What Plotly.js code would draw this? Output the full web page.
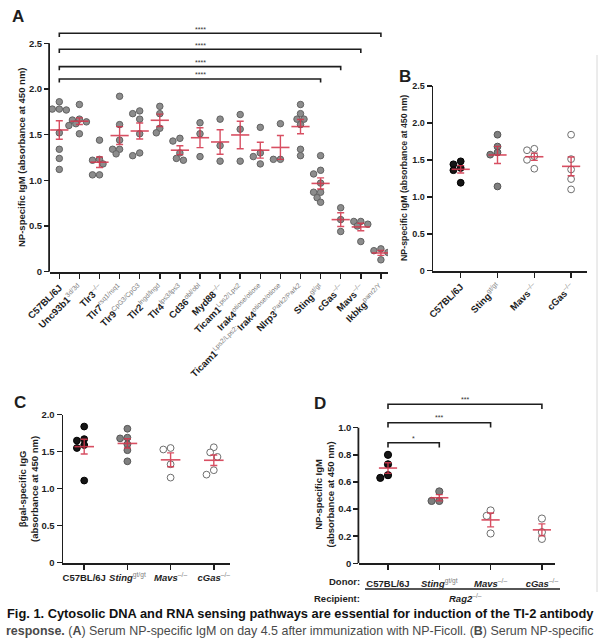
<!DOCTYPE html>
<html><head><meta charset="utf-8">
<script src="https://cdn.plot.ly/plotly-3.0.1.min.js"></script>
<style>html,body{margin:0;padding:0;background:#fff}#chart{width:600px;height:642px}</style>
</head><body><div id="chart"></div>
<script>
// ---------------- DATA ----------------
// Panel A : NP-specific IgM (absorbance at 450 nm)
const A_C57BL6J    = [1.86, 1.78, 1.78, 1.77, 1.52, 1.34, 1.24, 1.12];
const A_Unc93b1    = [1.83, 1.67, 1.66, 1.64, 1.62, 1.60, 1.51];
const A_Tlr3       = [1.44, 1.23, 1.22, 1.18, 1.06, 1.06];
const A_Tlr7       = [1.92, 1.61, 1.44, 1.34, 1.34, 1.29];
const A_Tlr9       = [1.76, 1.73, 1.67, 1.51, 1.27, 1.30];
const A_Tlr2       = [1.81, 1.73, 1.57, 1.52];
const A_Tlr4       = [1.46, 1.43, 1.30, 1.22, 1.24];
const A_Cd36       = [1.63, 1.51, 1.26];
const A_Myd88      = [1.67, 1.38, 1.21];
const A_Ticam1     = [1.72, 1.56, 1.21];
const A_Irak4      = [1.58, 1.30, 1.26, 1.18];
const A_Ticam1Irak4= [1.62, 1.23, 1.23];
const A_Nlrp3      = [1.83, 1.73, 1.67, 1.67, 1.61, 1.27, 1.34];
const A_Sting      = [1.27, 1.07, 1.11, 0.97, 0.87, 0.87, 0.81, 0.76];
const A_cGas       = [0.70, 0.57, 0.44];
const A_Mavs       = [0.55, 0.55, 0.52, 0.50, 0.33];
const A_Ikbkg      = [0.25, 0.23, 0.21, 0.13];

// Panel B : NP-specific IgM
const B_C57BL6J = [1.48, 1.44, 1.39, 1.36, 1.19];
const B_Sting   = [1.84, 1.68, 1.60, 1.57, 1.14];
const B_Mavs    = [1.65, 1.63, 1.55, 1.50, 1.38];
const B_cGas    = [1.84, 1.51, 1.37, 1.24, 1.10];

// Panel C : beta-gal-specific IgG
const C_C57BL6J = [1.84, 1.67, 1.65, 1.59, 1.55, 1.11];
const C_Sting   = [1.81, 1.69, 1.68, 1.60, 1.52, 1.37];
const C_Mavs    = [1.55, 1.53, 1.33, 1.15];
const C_cGas    = [1.56, 1.49, 1.43, 1.25, 1.19];

// Panel D : NP-specific IgM (Rag2-/- recipients)
const D_C57BL6J = [0.80, 0.73, 0.65, 0.63];
const D_Sting   = [0.53, 0.46, 0.46];
const D_Mavs    = [0.39, 0.35, 0.22];
const D_cGas    = [0.33, 0.23, 0.18];

// significance comparisons (from group 0 to group "to")
const sigA_to   = [13, 14, 15, 16];
const sigA_text = ['****', '****', '****', '****'];
const sigD_to   = [1, 2, 3];
const sigD_text = ['*', '***', '***'];

// tick labels
const SUPC = '#7e7e7e';
function L(name, sup, it) {
  let s = it ? '<b><i>' + name + '</i></b>' : '<b>' + name + '</b>';
  if (sup) s += '<sup><span style="color:' + SUPC + '">' + sup + '</span></sup>';
  return s;
}
const labelsA = [
  L('C57BL/6J'), L('Unc93b1', '3d/3d'), L('Tlr3', '–/–'), L('Tlr7', 'rsq1/rsq1'),
  L('Tlr9', 'CpG3/CpG3'), L('Tlr2', 'lngd/lngd'), L('Tlr4', 'lps3/lps3'), L('Cd36', 'obl/obl'),
  L('Myd88', '–/–'), L('Ticam1', 'Lps2/Lps2'), L('Irak4', 'otiose/otiose'),
  L('Ticam1', 'Lps2/Lps2;') + L('Irak4', 'otiose/otiose'),
  L('Nlrp3', 'Park2/Park2'), L('Sting', 'gt/gt'), L('cGas', '–/–'), L('Mavs', '–/–'), L('Ikbkg', 'panr2/Y')
];
const labelsB = [L('C57BL/6J'), L('Sting', 'gt/gt'), L('Mavs', '–/–'), L('cGas', '–/–')];
const labelsCD = [L('C57BL/6J'), L('Sting', 'gt/gt', true), L('Mavs', '–/–', true), L('cGas', '–/–', true)];

const groupsA = [A_C57BL6J, A_Unc93b1, A_Tlr3, A_Tlr7, A_Tlr9, A_Tlr2, A_Tlr4, A_Cd36, A_Myd88,
  A_Ticam1, A_Irak4, A_Ticam1Irak4, A_Nlrp3, A_Sting, A_cGas, A_Mavs, A_Ikbkg];
const groupsB = [B_C57BL6J, B_Sting, B_Mavs, B_cGas];
const groupsC = [C_C57BL6J, C_Sting, C_Mavs, C_cGas];
const groupsD = [D_C57BL6J, D_Sting, D_Mavs, D_cGas];

// ---------------- HELPERS ----------------
const W = 600, H = 642;
const fx = p => p / W;
const fy = p => 1 - p / H;
const RED = '#d3374d';
const INK = '#1e1e1e';
const FONT = 'Liberation Sans, Arial, sans-serif';

function mean(a) { return a.reduce((s, v) => s + v, 0) / a.length; }
function sem(a) { const m = mean(a); return Math.sqrt(a.reduce((s, v) => s + (v - m) * (v - m), 0) / (a.length - 1) / a.length); }

// simple deterministic beeswarm (offsets in category units)
function swarm(vals, pxY, pxX, d) {
  const idx = vals.map((v, i) => i).sort((a, b) => vals[b] - vals[a]);
  const placed = [], off = new Array(vals.length);
  const cands = [0, -0.5, 0.5, -1, 1, -1.5, 1.5];
  const thr = 0.8 * d;
  idx.forEach(i => {
    let best = 0, bestD = -1;
    for (const c of cands) {
      const ox = c * d;
      let m = Infinity;
      placed.forEach(p => { m = Math.min(m, Math.hypot(ox - p.x, (vals[i] - p.v) * pxY)); });
      if (m >= thr) { best = ox; bestD = m; break; }
      if (m > bestD) { bestD = m; best = ox; }
    }
    placed.push({ x: best, v: vals[i] });
    off[i] = best / pxX;
  });
  return off;
}

const traces = [];
function addPanel(groups, xa, ya, pxY, pxX, d, styles, meanSize) {
  groups.forEach((g, i) => {
    const off = swarm(g, pxY, pxX, d + 0.5);
    const st = styles[i];
    traces.push({
      type: 'scatter', mode: 'markers', xaxis: xa, yaxis: ya, hoverinfo: 'skip', showlegend: false,
      x: off.map(o => i + o), y: g,
      marker: { size: d, color: st.fill, line: { color: st.line, width: 1 } }
    });
  });
  traces.push({
    type: 'scatter', mode: 'markers', xaxis: xa, yaxis: ya, hoverinfo: 'skip', showlegend: false,
    x: groups.map((g, i) => i), y: groups.map(mean), opacity: 0.88,
    marker: { symbol: 'line-ew', size: meanSize, color: RED, line: { color: RED, width: 1.6 } },
    error_y: { type: 'data', array: groups.map(sem), color: RED, thickness: 1.4, width: 3.5 }
  });
}
const greyStyle = { fill: '#8d8d8d', line: '#626262' };
const stylesBCD = [{ fill: '#151515', line: '#000' }, { fill: '#7f7f7f', line: '#565656' },
  { fill: '#ffffff', line: '#6e6e6e' }, { fill: '#ffffff', line: '#6e6e6e' }];

// pixel geometry of the panels
const A_x0 = 50, A_x1 = 388, A_c0 = 59.3, A_dc = 20.1, A_yb = 271.7, A_ppu = 91.36, A_top = 22;
const B_x0 = 433.3, B_x1 = 586.7, B_c0 = 460.7, B_dc = 36.8, B_yb = 270.7, B_ppu = 73.9;
const C_x0 = 63.3, C_x1 = 230, C_c0 = 84.2, C_dc = 43.2, C_yb = 562.7, C_ppu = 74;
const D_x0 = 359.3, D_x1 = 555, D_c0 = 388, D_dc = 51.3, D_yb = 563.3, D_ppu = 135.6, D_top = 392;

addPanel(groupsA, 'x', 'y', A_ppu, A_dc, 6.5, groupsA.map(() => greyStyle), 13);
addPanel(groupsB, 'x2', 'y2', B_ppu, B_dc, 6.8, stylesBCD, 13);
addPanel(groupsC, 'x3', 'y3', C_ppu, C_dc, 6.8, stylesBCD, 14);
addPanel(groupsD, 'x4', 'y4', D_ppu, D_dc, 7.2, stylesBCD, 13);

function xax(x0, x1, c0, dc, n, labels, angle, extra) {
  return Object.assign({
    domain: [fx(x0), fx(x1)], range: [(x0 - c0) / dc, (x1 - c0) / dc],
    tickvals: labels.map((l, i) => i), ticktext: labels, tickangle: angle,
    ticks: 'outside', ticklen: 5, tickwidth: 1.5, tickcolor: INK,
    showline: true, linewidth: 1.8, linecolor: INK, showgrid: false, zeroline: false,
    tickfont: { family: FONT, size: 9.5, color: INK }, fixedrange: true
  }, extra || {});
}
function yax(yb, ppu, top, tv, tt, showline, anchor) {
  return {
    domain: [fy(yb), fy(yb - top * ppu)], range: [0, top], anchor: anchor,
    tickvals: tv, ticktext: tt, ticks: 'outside', ticklen: 5, tickwidth: 1.5, tickcolor: INK,
    showline: showline, linewidth: 1.8, linecolor: INK, showgrid: false, zeroline: false,
    tickfont: { family: FONT, size: 9.5, color: INK, weight: 'bold' }, fixedrange: true
  };
}
const tvA = [0, 0.5, 1, 1.5, 2, 2.5], ttA = ['0', '0.5', '1.0', '1.5', '2.0', '2.5'];
const tvC = [0, 0.5, 1, 1.5, 2], ttC = ['0', '0.5', '1.0', '1.5', '2.0'];
const tvD = [0, 0.2, 0.4, 0.6, 0.8, 1.0], ttD = ['0', '0.2', '0.4', '0.6', '0.8', '1.0'];

const layout = {
  width: W, height: H, margin: { l: 0, r: 0, t: 0, b: 0 }, paper_bgcolor: '#fff', plot_bgcolor: 'rgba(0,0,0,0)',
  showlegend: false, font: { family: FONT, color: INK },
  xaxis: xax(A_x0, A_x1, A_c0, A_dc, 17, labelsA, -45, { anchor: 'y', tickfont: { family: FONT, size: 9.6, color: INK } }),
  yaxis: yax(A_yb, A_ppu, (A_yb - A_top) / A_ppu, tvA, ttA, false, 'x'),
  xaxis2: xax(B_x0, B_x1, B_c0, B_dc, 4, labelsB, -45, { anchor: 'y2', tickfont: { family: FONT, size: 9.6, color: INK } }),
  yaxis2: yax(B_yb, B_ppu, 2.5, tvA, ttA, true, 'x2'),
  xaxis3: xax(C_x0, C_x1, C_c0, C_dc, 4, labelsCD, 0, { anchor: 'y3' }),
  yaxis3: yax(C_yb, C_ppu, 2.0, tvC, ttC, true, 'x3'),
  xaxis4: xax(D_x0, D_x1, D_c0, D_dc, 4, labelsCD, 0, { anchor: 'y4', ticklabelstandoff: 5 }),
  yaxis4: yax(D_yb, D_ppu, (D_yb - D_top) / D_ppu, tvD, ttD, false, 'x4'),
  shapes: [], annotations: []
};
layout.yaxis2.tickfont.size = 9;

// manual y-axis lines (A and D extend above the axis for comparison bars)
layout.shapes.push({ type: 'line', xref: 'paper', yref: 'y', x0: fx(A_x0) - 0.0015, x1: fx(A_x0) - 0.0015, y0: 0, y1: 2.5, line: { color: INK, width: 1.8 } });
layout.shapes.push({ type: 'line', xref: 'paper', yref: 'y4', x0: fx(D_x0) - 0.0015, x1: fx(D_x0) - 0.0015, y0: 0, y1: 1.0, line: { color: INK, width: 1.8 } });

// comparison bars
const sigAy = [2.11, 2.245, 2.435, 2.61];
sigA_to.forEach((t, k) => {
  const y = sigAy[k], dr = 0.04;
  layout.shapes.push({ type: 'path', xref: 'x', yref: 'y', path: `M0,${y - dr} L0,${y} L${t},${y} L${t},${y - dr}`, line: { color: INK, width: 1.6 } });
  layout.annotations.push({ xref: 'x', yref: 'y', x: 7, y: y + 0.045, text: sigA_text[k], showarrow: false, font: { family: FONT, size: 7, color: '#333' }, yanchor: 'middle' });
});
const sigDy = [0.889, 1.037, 1.173];
sigD_to.forEach((t, k) => {
  const y = sigDy[k], dr = 0.035;
  layout.shapes.push({ type: 'path', xref: 'x4', yref: 'y4', path: `M0,${y - dr} L0,${y} L${t},${y} L${t},${y - dr}`, line: { color: INK, width: 1.6 } });
  layout.annotations.push({ xref: 'x4', yref: 'y4', x: t / 2, y: y + 0.035, text: sigD_text[k], showarrow: false, font: { family: FONT, size: 7, color: '#333' }, yanchor: 'middle' });
});

// right border of the figure
layout.shapes.push({ type: 'line', xref: 'paper', yref: 'paper', x0: fx(597), x1: fx(597), y0: fy(592), y1: fy(55), line: { color: '#d8d8d8', width: 1 } });
// donor underline
layout.shapes.push({ type: 'line', xref: 'paper', yref: 'paper', x0: fx(365), x1: fx(560), y0: fy(589), y1: fy(589), line: { color: INK, width: 1.5 } });

function ann(x, y, text, size, opts) {
  layout.annotations.push(Object.assign({ xref: 'paper', yref: 'paper', x: fx(x), y: fy(y), text: text, showarrow: false,
    font: { family: FONT, size: size, color: INK }, xanchor: 'center', yanchor: 'middle' }, opts || {}));
}
// panel letters
ann(18, 16, '<b>A</b>', 17);
ann(405, 77, '<b>B</b>', 17);
ann(20, 402, '<b>C</b>', 17);
ann(320, 403, '<b>D</b>', 17);
// y titles
ann(21.5, 157.5, '<b>NP-specific IgM (absorbance at 450 nm)</b>', 9.5, { textangle: -90 });
ann(404, 178, '<b>NP-specific IgM (absorbance at 450 nm)</b>', 8.8, { textangle: -90 });
ann(28, 489, '<b>βgal-specific IgG<br>(absorbance at 450 nm)</b>', 9.5, { textangle: -90 });
ann(323.5, 495, '<b>NP-specific IgM<br>(absorbance at 450 nm)</b>', 9.5, { textangle: -90 });
// donor / recipient
ann(362, 581, '<b>Donor:</b>', 9.5, { xanchor: 'right' });
ann(362, 598, '<b>Recipient:</b>', 9.5, { xanchor: 'right' });
ann(466, 598, '<b><i>Rag2</i></b><sup><span style="color:' + SUPC + '">–/–</span></sup>', 9.5);

// caption: choose a size whose natural width fits the page width
const CAPF = 'Liberation Sans Narrow, Arial Narrow, Liberation Sans, sans-serif';
const cap1 = 'Fig. 1. Cytosolic DNA and RNA sensing pathways are essential for induction of the TI-2 antibody';
const cap2b = ['response.', 'A', 'B'];
const cap2r = [' (', ') Serum NP-specific IgM on day 4.5 after immunization with NP-Ficoll. (', ') Serum NP-specific'];
const cvs = document.createElement('canvas').getContext('2d');
function measure(str, size, bold) {
  cvs.font = (bold ? 'bold ' : '') + size + 'px "Liberation Sans Narrow", "Arial Narrow", "Liberation Sans", sans-serif';
  return cvs.measureText(str).width;
}
const target = 588;
let s1 = 13.5;
s1 = Math.min(13.5, s1 * target / measure(cap1, s1, true));
let s2 = 12.5;
const w2 = measure(cap2b.join(''), s2, true) + measure(cap2r.join(''), s2, false);
s2 = Math.min(12.5, s2 * target / w2);
ann(300, 613, '<b>' + cap1 + '</b>', s1, { font: { family: CAPF, size: s1, color: '#111' } });
ann(300, 631, '<b>' + cap2b[0] + '</b>' + cap2r[0] + '<b>' + cap2b[1] + '</b>' + cap2r[1] + '<b>' + cap2b[2] + '</b>' + cap2r[2], s2,
  { font: { family: CAPF, size: s2, color: '#4a4a4a' } });

Plotly.newPlot('chart', traces, layout, { staticPlot: true, displayModeBar: false });
</script>
</body></html>
